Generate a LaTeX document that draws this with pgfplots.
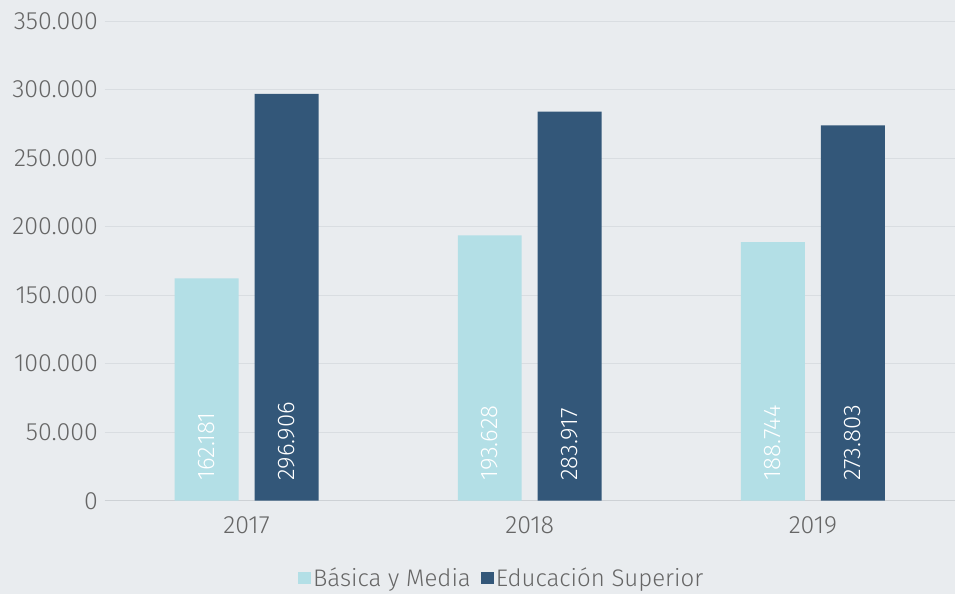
\documentclass[border=0pt]{standalone}
\usepackage{pgfplots}
\pgfplotsset{compat=1.18}
\usepackage{fontspec}
\setmainfont{Fira Sans}[UprightFont=* Light]
\definecolor{bg}{HTML}{E9ECEF}
\definecolor{gridc}{HTML}{D9DDE1}
\definecolor{basec}{HTML}{CDD1D5}
\definecolor{lightb}{HTML}{B3DFE6}
\definecolor{darkb}{HTML}{335779}
\definecolor{txt}{HTML}{666666}
\begin{document}
\begin{tikzpicture}
\fill[bg] (-105bp,-93bp) rectangle (850bp,501bp);
\begin{axis}[
  scale only axis,
  width=850bp, height=480bp,
  xmin=-0.5, xmax=2.5,
  ymin=0, ymax=350000,
  ytick={0,50000,100000,150000,200000,250000,300000,350000},
  xtick={0,1,2},
  xticklabels={2017,2018,2019},
  axis line style={draw=none},
  major tick length=0pt,
  ymajorgrids,
  grid style={gridc, line width=0.8bp},
  scaled y ticks=false,
  yticklabel={\pgfmathprintnumber[fixed, precision=0, 1000 sep={.}, assume math mode=true]{\tick}},
  ticklabel style={font=\fontsize{25bp}{30bp}\selectfont, text=txt},
  yticklabel style={anchor=east, inner sep=0pt, xshift=-7bp},
  xticklabel style={anchor=north, inner sep=0pt, yshift=-16bp},
  ybar, bar width=64bp,
  legend style={at={(0.467,-0.16)}, anchor=center, draw=none, fill=none,
    legend columns=-1, font=\fontsize{24bp}{28bp}\selectfont, text=txt,
    /tikz/every even column/.append style={column sep=8bp}},
  legend image code/.code={\fill[#1] (0bp,-7bp) rectangle (13bp,6bp);},
  clip=false,
]
\draw[basec, line width=1bp] (axis cs:-0.5,0) -- (axis cs:2.5,0);
\addplot[fill=lightb, draw=none, bar shift=-40bp] coordinates {(0,162181) (1,193628) (2,188744)};
\addplot[fill=darkb, draw=none, bar shift=40bp] coordinates {(0,296906) (1,283917) (2,273803)};
\legend{Básica y Media, Educación Superior}
\addplot[draw=none, fill=none, bar shift=-40bp, forget plot,
  point meta=explicit symbolic,
  nodes near coords={\pgfplotspointmeta},
  every node near coord/.append style={yshift=20bp, rotate=90, anchor=west, inner sep=0pt, text=white, font=\fontsize{24bp}{28bp}\selectfont}]
  coordinates {(0,0) [162.181] (1,0) [193.628] (2,0) [188.744]};
\addplot[draw=none, fill=none, bar shift=40bp, forget plot,
  point meta=explicit symbolic,
  nodes near coords={\pgfplotspointmeta},
  every node near coord/.append style={yshift=20bp, rotate=90, anchor=west, inner sep=0pt, text=white, font=\fontsize{24bp}{28bp}\selectfont}]
  coordinates {(0,0) [296.906] (1,0) [283.917] (2,0) [273.803]};
\end{axis}
\end{tikzpicture}
\end{document}
